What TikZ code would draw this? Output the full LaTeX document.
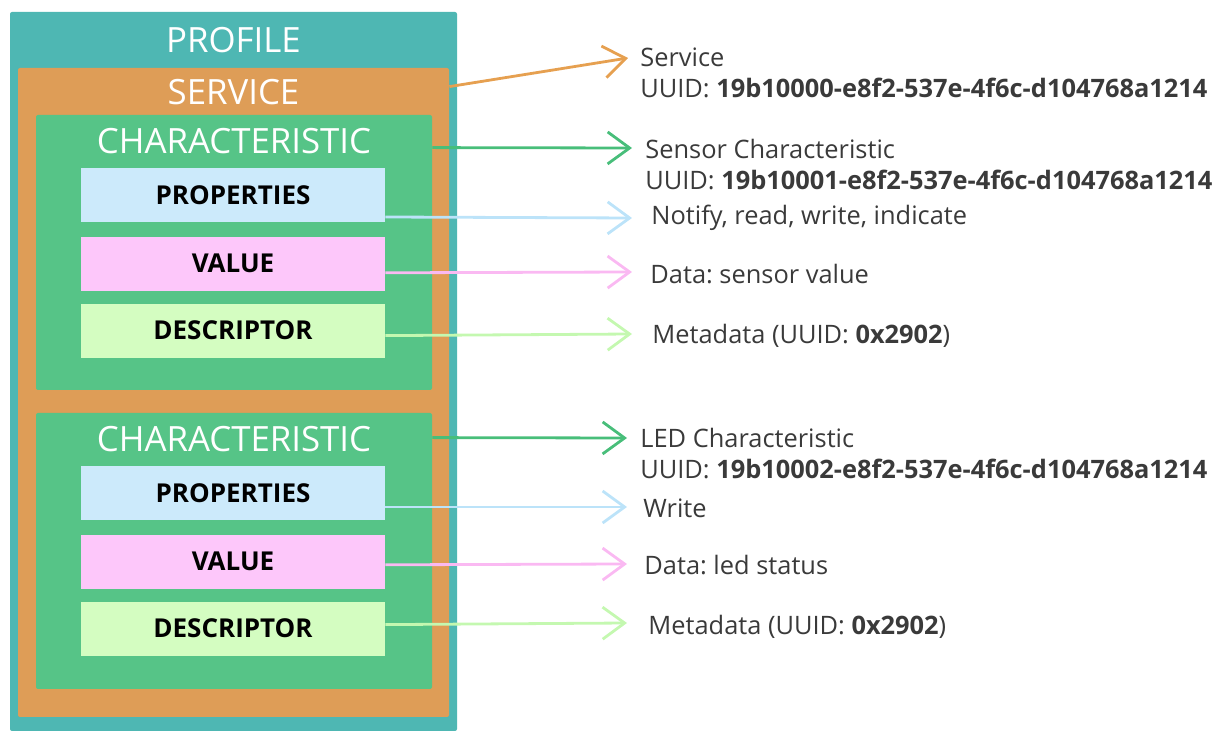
\documentclass[tikz,border=0pt]{standalone}
\usepackage{fontspec}
\setmainfont{Open Sans}
\usetikzlibrary{positioning, arrows.meta}
\definecolor{proteal}{RGB}{78,183,179}
\definecolor{svcorange}{RGB}{222,157,87}
\definecolor{chgreen}{RGB}{86,196,135}
\definecolor{propblue}{RGB}{204,234,251}
\definecolor{valpink}{RGB}{253,199,250}
\definecolor{descgreen}{RGB}{212,253,193}
\definecolor{txtgray}{RGB}{58,58,58}
\definecolor{arrorange}{RGB}{230,160,80}
\definecolor{arrgreen}{RGB}{72,190,122}
\definecolor{arrblue}{RGB}{188,227,249}
\definecolor{arrpink}{RGB}{250,185,242}
\definecolor{arrlgreen}{RGB}{196,248,176}
\frenchspacing

\begin{document}
\begin{tikzpicture}[x=0.5pt, y=-0.5pt,
      groupbox/.style={fill=#1, rounded corners=1pt, inner sep=0pt},
      fieldbox/.style={fill=#1, minimum width=152pt, minimum height=27pt, inner sep=0pt, font=\fontsize{13pt}{14pt}\selectfont\bfseries},
      grouplabel/.style={text=white, inner sep=0pt, font=\fontsize{17.4pt}{18pt}\selectfont},
      infotext/.style={text=txtgray, align=left, anchor=west, inner sep=0pt, font=\fontsize{12.7pt}{15.5pt}\selectfont},
      arrowstyle/.style={-{Straight Barb[length=11pt, width=16pt]}, line width=1.4pt, #1}
    ]
      \useasboundingbox (0,0) rectangle (1216,731);
      \node [groupbox=proteal, minimum width=223.5pt, minimum height=359.5pt] (prof) at (233.5,371.5) {};
      \node [groupbox=svcorange, minimum width=215.5pt, minimum height=324.5pt] (svc) at (233.5,392.5) {};
      \node [groupbox=chgreen, minimum width=198pt, minimum height=137.5pt] (ch1) at (234,252.5) {};
      \node [groupbox=chgreen, minimum width=198pt, minimum height=138pt] (ch2) at (234,551) {};

      \node [grouplabel] (profT) at (233.5,40) {PROFILE};
      \node [grouplabel] (svcT) at (233.5,92) {SERVICE};
      \node [grouplabel] (ch1T) at (234,141) {CHARACTERISTIC};
      \node [grouplabel] (ch2T) at (234,439) {CHARACTERISTIC};

      \node [fieldbox=propblue] (pr1) at (233,195) {PROPERTIES};
      \node [fieldbox=valpink, below=7pt of pr1] (va1) {VALUE};
      \node [fieldbox=descgreen, below=6pt of va1] (de1) {DESCRIPTOR};
      \node [fieldbox=propblue] (pr2) at (233,493) {PROPERTIES};
      \node [fieldbox=valpink, below=7pt of pr2] (va2) {VALUE};
      \node [fieldbox=descgreen, below=6pt of va2] (de2) {DESCRIPTOR};

      \coordinate (svcTip) at (628,58);
      \coordinate (ch1Tip) at (632,148);
      \coordinate (pr1Tip) at (632,218);
      \coordinate (va1Tip) at (632,272);
      \coordinate (de1Tip) at (632,334);
      \coordinate (ch2Tip) at (627,438);
      \coordinate (pr2Tip) at (627,507);
      \coordinate (va2Tip) at (627,564);
      \coordinate (de2Tip) at (627,623);

      \draw [arrowstyle=arrorange] ([yshift=-9.5pt]svc.north east) -- (svcTip);
      \draw [arrowstyle=arrgreen] ([yshift=-16.5pt]ch1.north east) -- (ch1Tip);
      \draw [arrowstyle=arrblue] ([yshift=-11pt]pr1.east) -- (pr1Tip);
      \draw [arrowstyle=arrpink] ([yshift=-4.5pt]va1.east) -- (va1Tip);
      \draw [arrowstyle=arrlgreen] ([yshift=-2.5pt]de1.east) -- (de1Tip);
      \draw [arrowstyle=arrgreen] ([yshift=-12.5pt]ch2.north east) -- (ch2Tip);
      \draw [arrowstyle=arrblue] ([yshift=-7pt]pr2.east) -- (pr2Tip);
      \draw [arrowstyle=arrpink] ([yshift=-1.5pt]va2.east) -- (va2Tip);
      \draw [arrowstyle=arrlgreen] ([yshift=2pt]de2.east) -- (de2Tip);

      \node [infotext] (svcInfo) at (640,72.5) {Service\\UUID: \textbf{19b10000-e8f2-537e-4f6c-d104768a1214}};
      \node [infotext] (ch1Info) at (645,165) {Sensor Characteristic\\UUID: \textbf{19b10001-e8f2-537e-4f6c-d104768a1214}};
      \node [infotext] (pr1Info) at (651,218) {Notify, read, write, indicate};
      \node [infotext] (va1Info) at (650,274) {Data: sensor value};
      \node [infotext] (de1Info) at (652,336) {Metadata (UUID: \textbf{0x2902})};
      \node [infotext] (ch2Info) at (640,453.5) {LED Characteristic\\UUID: \textbf{19b10002-e8f2-537e-4f6c-d104768a1214}};
      \node [infotext] (pr2Info) at (643,508) {Write};
      \node [infotext] (va2Info) at (644,565) {Data: led status};
      \node [infotext] (de2Info) at (648,627) {Metadata (UUID: \textbf{0x2902})};
    \end{tikzpicture}
\end{document}
